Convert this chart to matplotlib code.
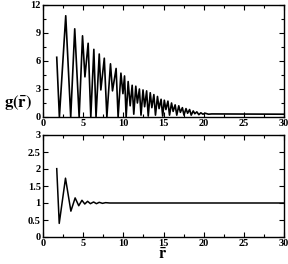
import matplotlib
matplotlib.use("Agg")
import matplotlib.pyplot as plt
from matplotlib.ticker import MultipleLocator

plt.rcParams['font.family'] = ['Liberation Serif', 'DejaVu Serif']
plt.rcParams['font.weight'] = 'bold'
plt.rcParams['mathtext.fontset'] = 'stix'

# top panel: g(r)
r_top = [1.71, 2.04, 2.83, 3.45, 3.95, 4.50, 4.92, 5.22, 5.62, 5.95,
         6.33, 6.60, 7.00, 7.20, 7.63, 7.95, 8.40, 8.65, 9.10, 9.35,
         9.70, 9.95, 10.15, 10.35, 10.60, 10.85, 11.10, 11.30, 11.55, 11.75,
         12.00, 12.20, 12.45, 12.65, 12.90, 13.10, 13.35, 13.55, 13.80, 14.00,
         14.25, 14.45, 14.70, 14.90, 15.10, 15.30, 15.55, 15.75, 16.00, 16.20,
         16.45, 16.65, 16.90, 17.10, 17.35, 17.55, 17.80, 18.00, 18.25, 18.45,
         18.70, 18.90, 19.15, 19.40, 19.65, 19.90, 20.20, 20.60, 21.00, 30.00]
g_top = [6.4, 0.0, 10.85, 0.0, 9.45, 0.0, 8.7, 4.3, 7.9, 0.0,
         7.25, 0.0, 6.75, 2.9, 6.3, 0.0, 5.7, 2.8, 5.2, 0.0,
         4.7, 2.5, 4.4, 0.0, 3.8, 1.2, 3.4, 0.3, 3.3, 1.5,
         3.0, 0.2, 2.9, 1.1, 2.8, 0.1, 2.6, 1.0, 2.4, 0.2,
         2.2, 0.9, 1.9, 0.1, 1.8, 0.8, 1.7, 0.2, 1.5, 0.6,
         1.3, 0.2, 1.2, 0.5, 1.0, 0.2, 0.9, 0.4, 0.8, 0.2,
         0.65, 0.35, 0.55, 0.25, 0.45, 0.3, 0.4, 0.3, 0.33, 0.3]

# bottom panel
r_bot = [1.71, 2.02, 2.80, 3.47, 4.00, 4.45, 4.85, 5.20, 5.55, 5.90,
         6.30, 6.65, 7.00, 7.40, 7.80, 8.30, 30.00]
g_bot = [2.01, 0.40, 1.73, 0.76, 1.15, 0.92, 1.08, 0.97, 1.05, 0.98,
         1.03, 0.98, 1.02, 0.99, 1.01, 1.00, 1.00]

fig = plt.figure(figsize=(2.88, 2.64), dpi=100)
W, H = 288, 264
ax1 = fig.add_axes([43/W, 1-117/H, 241/W, 112/H])
ax2 = fig.add_axes([43/W, 1-237/H, 241/W, 102/H])

ax1.plot(r_top, g_top, color='black', lw=1.2)
ax2.plot(r_bot, g_bot, color='black', lw=1.1)

ax1.set_xlim(0, 30)
ax1.set_ylim(0, 12)
ax1.xaxis.set_major_locator(MultipleLocator(5))
ax1.xaxis.set_minor_locator(MultipleLocator(2.5))
ax1.yaxis.set_major_locator(MultipleLocator(3))
ax1.yaxis.set_minor_locator(MultipleLocator(1.5))

ax2.set_xlim(0, 30)
ax2.set_ylim(0, 3)
ax2.xaxis.set_major_locator(MultipleLocator(5))
ax2.xaxis.set_minor_locator(MultipleLocator(2.5))
ax2.yaxis.set_major_locator(MultipleLocator(0.5))
ax2.yaxis.set_major_formatter(plt.FuncFormatter(lambda v, p: ('%g' % v)))

for ax in (ax1, ax2):
    ax.tick_params(which='both', direction='in', top=True, right=True,
                   labelsize=7.5, pad=1.5, width=0.8)
    ax.tick_params(which='major', length=3.5)
    ax.tick_params(which='minor', length=2.2)
    for s in ax.spines.values():
        s.set_linewidth(1.0)

fig.text(18/W, 1-103/H, r'$\mathbf{g(\bar{r})}$', fontsize=12,
         ha='center', va='center')
fig.text(163/W, 1/H, r'$\mathbf{\bar{r}}$', fontsize=11.5,
         ha='center', va='bottom')

fig.savefig('out.png', dpi=100)
